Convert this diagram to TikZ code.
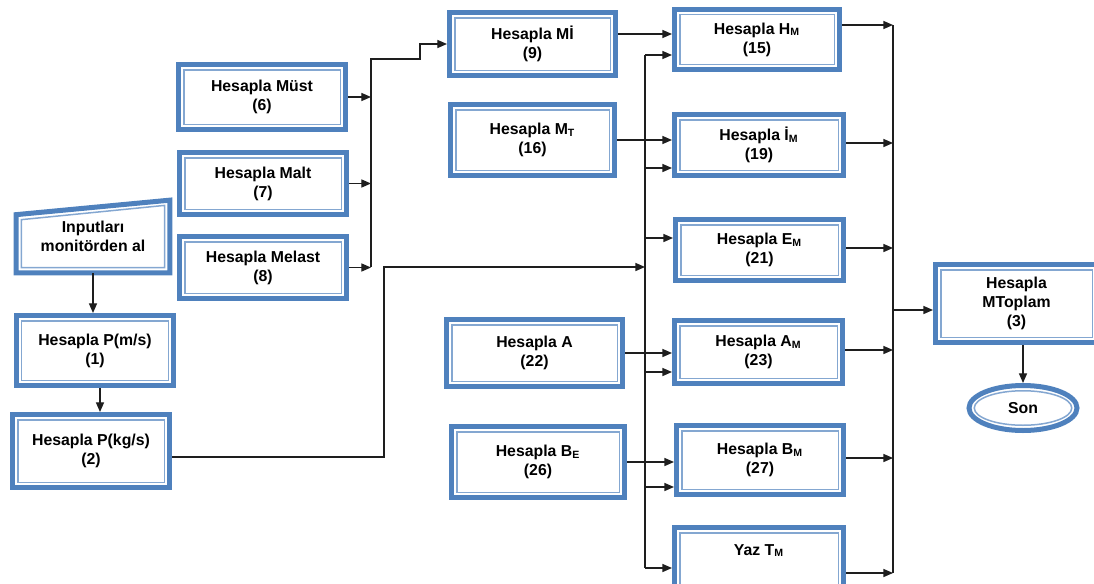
\documentclass[tikz,border=0pt]{standalone}
\usepackage{fontspec}
\setmainfont{Liberation Sans}
\usetikzlibrary{arrows.meta,shapes.geometric}
\definecolor{boxblue}{RGB}{79,129,189}
\definecolor{linkgray}{RGB}{30,30,30}

\begin{document}
\begin{tikzpicture}[
	box/.style={draw=boxblue, line width=0.1cm, fill=white, align=center, inner sep=2pt,
		font=\bfseries\fontsize{9}{10.8}\selectfont,
		path picture={\draw[boxblue!70, line width=0.03cm]
			([shift={(0.105,0.105)}]path picture bounding box.south west) rectangle
			([shift={(-0.105,-0.105)}]path picture bounding box.north east);}},
	arr/.style={-{Triangle[length=5.5pt,width=4.6pt]}, line width=0.75pt, color=linkgray},
	bus/.style={line width=0.75pt, draw=linkgray}
]
\useasboundingbox (0,0) rectangle (21.88,-11.66);

	\node[align=center, font=\bfseries\fontsize{9}{10.8}\selectfont, minimum width=3.06cm, minimum height=1.44cm] (inp) at (1.86,-4.73) {Inputları\\monitörden al};
	\draw[boxblue, line width=0.1cm] (inp.south west) -- (inp.south east) -- (inp.north east) -- ([yshift=-0.29cm]inp.north west) -- cycle;
	\draw[boxblue!70, line width=0.03cm] ([shift={(0.105,0.105)}]inp.south west) -- ([shift={(-0.105,0.105)}]inp.south east) -- ([shift={(-0.105,-0.105)}]inp.north east) -- ([shift={(0.105,-0.39)}]inp.north west) -- cycle;

	\node[box, minimum width=3.14cm, minimum height=1.40cm] (pms) at (1.90,-7.01) {Hesapla P(m/s)\\(1)};
	\node[box, minimum width=3.14cm, minimum height=1.46cm] (pkg) at (1.82,-9.02) {Hesapla P(kg/s)\\(2)};

	\node[box, minimum width=3.34cm, minimum height=1.30cm] (must)   at (5.24,-1.94) {Hesapla Müst\\(6)};
	\node[box, minimum width=3.34cm, minimum height=1.24cm] (malt)   at (5.26,-3.67) {Hesapla Malt\\(7)};
	\node[box, minimum width=3.34cm, minimum height=1.24cm] (melast) at (5.26,-5.35) {Hesapla Melast\\(8)};

	\node[box, minimum width=3.32cm, minimum height=1.26cm] (mi)  at (10.65,-0.88) {Hesapla Mİ\\(9)};
	\node[box, minimum width=3.28cm, minimum height=1.42cm] (mt)  at (10.65,-2.80) {Hesapla M\textsubscript{T}\\(16)};
	\node[box, minimum width=3.52cm, minimum height=1.34cm] (a22) at (10.69,-7.06) {Hesapla A\\(22)};
	\node[box, minimum width=3.46cm, minimum height=1.42cm] (be)  at (10.76,-9.24) {Hesapla B\textsubscript{E}\\(26)};

	\node[box, minimum width=3.30cm, minimum height=1.20cm] (hm)  at (15.14,-0.79)  {Hesapla H\textsubscript{M}\\(15)};
	\node[box, minimum width=3.38cm, minimum height=1.22cm] (im)  at (15.18,-2.90)  {Hesapla İ\textsubscript{M}\\(19)};
	\node[box, minimum width=3.36cm, minimum height=1.22cm] (em)  at (15.19,-5.00)  {Hesapla E\textsubscript{M}\\(21)};
	\node[box, minimum width=3.36cm, minimum height=1.26cm] (am)  at (15.17,-7.04)  {Hesapla A\textsubscript{M}\\(23)};
	\node[box, minimum width=3.34cm, minimum height=1.38cm] (bm)  at (15.20,-9.20)  {Hesapla B\textsubscript{M}\\(27)};
	\node[box, minimum width=3.38cm, minimum height=1.60cm, text height=0.25cm, text depth=0.75cm] (yaz) at (15.18,-11.35) {Yaz T\textsubscript{M}};

	\node[box, minimum width=3.24cm, minimum height=1.56cm] (tot) at (20.33,-6.07) {Hesapla\\MToplam\\(3)};
	\node[box, ellipse, minimum width=2.16cm, minimum height=0.90cm,
		path picture={\draw[boxblue!70, line width=0.03cm] (path picture bounding box.center) ellipse [x radius=0.975cm, y radius=0.345cm];}] (son) at (20.46,-8.16) {Son};

	% junctions
	\coordinate (b1t) at (7.42,-1.18);
	\coordinate (b1b) at (7.42,-5.34);
	\coordinate (j1)  at (8.40,-1.18);
	\coordinate (k1)  at (7.68,-5.34);
	\coordinate (k2)  at (12.90,-5.34);

	\coordinate (c15) at (12.90,-1.10);
	\coordinate (c19) at (12.90,-3.36);
	\coordinate (c21) at (12.90,-4.76);
	\coordinate (c23) at (12.90,-7.44);
	\coordinate (c27) at (12.90,-9.74);
	\coordinate (c30) at (12.90,-11.36);

	\coordinate (o15) at (17.86,-0.50);
	\coordinate (o19) at (17.86,-2.86);
	\coordinate (o21) at (17.86,-4.96);
	\coordinate (o23) at (17.86,-7.00);
	\coordinate (o27) at (17.86,-9.16);
	\coordinate (o30) at (17.86,-11.46);
	\coordinate (o3)  at (17.86,-6.20);

	\path [arr] (inp.south) edge (inp.south |- pms.north);
	\path [arr] ([xshift=0.1cm]pms.south) edge ([xshift=0.1cm]pms.south |- pkg.north);

	\path [arr] (must.east)   edge (must.east -| b1t);
	\path [arr] (malt.east)   edge (malt.east -| b1t);
	\path [arr] (melast.east) edge (melast.east -| b1t);
	\draw [arr] (b1b) -- (b1t) -- (j1) |- (mi.west);
	\draw [arr] ([yshift=-0.12cm]pkg.east) -| (k1) -- (k2);

	\draw [bus] (c15) -- (c30);
	\path [arr] (c15) edge (c15 -| hm.west);
	\path [arr] (c19) edge (c19 -| im.west);
	\path [arr] (c21) edge (c21 -| em.west);
	\path [arr] (c23) edge (c23 -| am.west);
	\path [arr] (c27) edge (c27 -| bm.west);
	\path [arr] (c30) edge (c30 -| yaz.west);

	\path [arr] ([yshift=0.2cm]mi.east) edge ([yshift=0.2cm]mi.east -| hm.west);
	\path [arr] (mt.east)  edge (mt.east -| im.west);
	\path [arr] (a22.east) edge (a22.east -| am.west);
	\path [arr] (be.east)  edge (be.east -| bm.west);

	\draw [bus] (o15) -- (o30);
	\path [arr] (o15 -| hm.east)  edge (o15);
	\path [arr] (o19 -| im.east)  edge (o19);
	\path [arr] (o21 -| em.east)  edge (o21);
	\path [arr] (o23 -| am.east)  edge (o23);
	\path [arr] (o27 -| bm.east)  edge (o27);
	\path [arr] (o30 -| yaz.east) edge (o30);
	\path [arr] (o3) edge (o3 -| tot.west);

	\path [arr] (son.north |- tot.south) edge (son.north);
\end{tikzpicture}
\end{document}
